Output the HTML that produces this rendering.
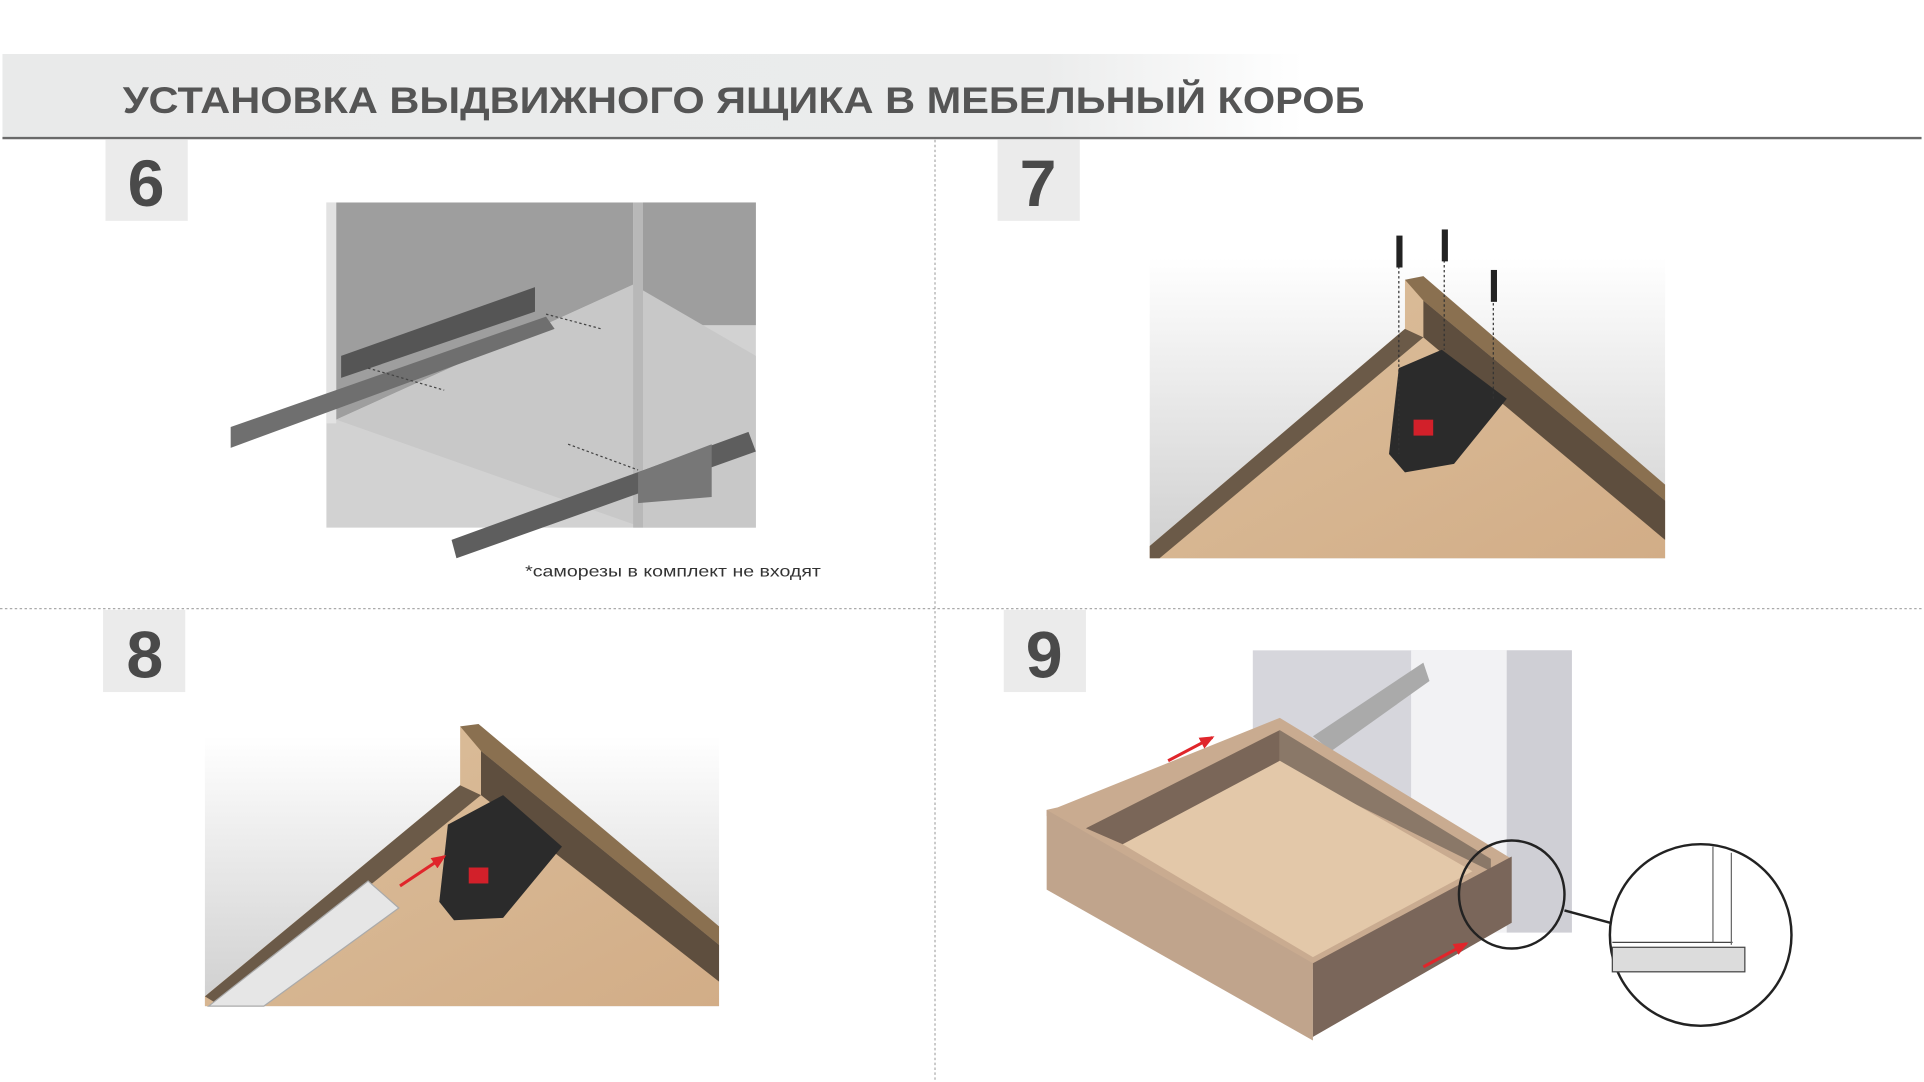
<!DOCTYPE html>
<html><head><meta charset="utf-8"><style>
html,body{margin:0;padding:0;background:#fff;width:1924px;height:1082px;overflow:hidden}
#w{width:1568px;height:882px;transform:scale(1.22704);transform-origin:0 0}
svg{display:block}
</style></head><body><div id="w">
<svg width="1568" height="882" viewBox="0 0 1568 882" xmlns="http://www.w3.org/2000/svg">
<defs>
<linearGradient id="hd" x1="0" x2="1" y1="0" y2="0"><stop offset="0" stop-color="#e9eaea"/><stop offset="0.8" stop-color="#ebecec"/><stop offset="1" stop-color="#fff"/></linearGradient>
<linearGradient id="bg7" x1="0" x2="0" y1="0" y2="1"><stop offset="0" stop-color="#fff"/><stop offset="1" stop-color="#cfcfcf"/></linearGradient>
<linearGradient id="wood" x1="0" x2="1" y1="0" y2="1"><stop offset="0" stop-color="#dcbf9c"/><stop offset="1" stop-color="#d2ad87"/></linearGradient>
<marker id="ar" markerUnits="userSpaceOnUse" markerWidth="12" markerHeight="10" refX="10" refY="5" orient="auto"><path d="M0,0 L12,5 L0,10z" fill="#e0262b"/></marker>
</defs>
<rect x="2" y="44" width="1060" height="68" fill="url(#hd)"/>
<text x="100" y="92" font-family="Liberation Sans, sans-serif" font-weight="bold" font-size="30" fill="#555" textLength="1012" lengthAdjust="spacingAndGlyphs">УСТАНОВКА ВЫДВИЖНОГО ЯЩИКА В МЕБЕЛЬНЫЙ КОРОБ</text>
<line x1="2" y1="112.5" x2="1566" y2="112.5" stroke="#6a6a6a" stroke-width="2"/>
<line x1="762" y1="114" x2="762" y2="882" stroke="#aaa" stroke-width="1" stroke-dasharray="2,2"/>
<line x1="0" y1="496" x2="1568" y2="496" stroke="#aaa" stroke-width="1" stroke-dasharray="2,2"/>
<g font-family="Liberation Sans, sans-serif" font-weight="bold" font-size="54" fill="#4a4a4a" text-anchor="middle">
<rect x="86" y="114" width="67" height="66" fill="#ebebeb"/><text x="119" y="168">6</text>
<rect x="813" y="114" width="67" height="66" fill="#ebebeb"/><text x="846" y="168">7</text>
<rect x="84" y="497" width="67" height="67" fill="#ebebeb"/><text x="118" y="552">8</text>
<rect x="818" y="497" width="67" height="67" fill="#ebebeb"/><text x="851" y="552">9</text>
</g>
<!-- panel 6 -->
<rect x="266" y="165" width="350" height="265" fill="#d2d2d2"/>
<polygon points="274,165 516,165 516,232 274,342" fill="#9e9e9e"/>
<rect x="524" y="165" width="92" height="100" fill="#9e9e9e"/>
<polygon points="274,342 516,232 616,290 616,430 524,430" fill="#c8c8c8"/>
<rect x="266" y="165" width="8" height="180" fill="#e2e2e2"/>
<rect x="516" y="165" width="8" height="265" fill="#b8b8b8"/>
<polygon points="188,348 445,258 452,268 188,365" fill="#6f6f6f"/>
<polygon points="278,290 436,234 436,254 278,308" fill="#555"/>
<polygon points="368,440 610,352 616,368 372,455" fill="#5e5e5e"/>
<polygon points="520,385 580,362 580,405 520,410" fill="#777"/>
<line x1="445" y1="256" x2="490" y2="268" stroke="#444" stroke-dasharray="2,2"/>
<line x1="300" y1="300" x2="362" y2="318" stroke="#444" stroke-dasharray="2,2"/>
<line x1="463" y1="362" x2="520" y2="383" stroke="#444" stroke-dasharray="2,2"/>
<text x="428" y="470" font-family="Liberation Sans, sans-serif" font-size="13" fill="#333" textLength="241" lengthAdjust="spacingAndGlyphs">*саморезы в комплект не входят</text>
<!-- panel 7 -->
<rect x="937" y="210" width="420" height="245" fill="url(#bg7)"/>
<polygon points="937,455 937,445 1145,268 1145,228 1357,408 1357,455" fill="url(#wood)"/>
<polygon points="937,445 1145,268 1160,275 945,455 937,455" fill="#6b5a48"/>
<polygon points="1145,228 1160,225 1357,395 1357,408 1160,245" fill="#8a7050"/>
<polygon points="1160,245 1357,408 1357,440 1160,275" fill="#5e4e3e"/>
<polygon points="1140,300 1175,285 1228,325 1185,378 1145,385 1132,370" fill="#2b2b2b"/>
<rect x="1152" y="342" width="16" height="13" fill="#d2202a"/>
<g stroke="#333" stroke-dasharray="2,2"><line x1="1140" y1="205" x2="1140" y2="370"/><line x1="1177" y1="200" x2="1177" y2="285"/><line x1="1217" y1="235" x2="1217" y2="325"/></g>
<g fill="#222"><rect x="1138" y="192" width="5" height="26"/><rect x="1175" y="187" width="5" height="26"/><rect x="1215" y="220" width="5" height="26"/></g>
<!-- panel 8 -->
<rect x="167" y="600" width="419" height="220" fill="url(#bg7)"/>
<polygon points="167,820 167,812 375,640 375,592 586,770 586,820" fill="url(#wood)"/>
<polygon points="167,812 375,640 392,648 180,820" fill="#6b5a48"/>
<polygon points="375,592 390,590 586,755 586,770 392,612" fill="#8a7050"/>
<polygon points="392,612 586,770 586,800 392,648" fill="#5e4e3e"/>
<polygon points="170,820 300,718 325,740 215,820" fill="#e6e6e6" stroke="#aaa"/>
<polygon points="365,672 410,648 458,690 410,748 370,750 358,735" fill="#2b2b2b"/>
<rect x="382" y="707" width="16" height="13" fill="#d2202a"/>
<line x1="326" y1="722" x2="362" y2="698" stroke="#e0262b" stroke-width="2.5" marker-end="url(#ar)"/>
<!-- panel 9 -->
<rect x="1021" y="530" width="260" height="230" fill="#d6d6dc"/>
<rect x="1150" y="530" width="78" height="230" fill="#f2f2f4"/>
<rect x="1228" y="530" width="53" height="230" fill="#cfcfd5"/>
<polygon points="1070,600 1160,540 1165,555 1085,612" fill="#aaa"/>
<polygon points="853,660 862,658 1043,585 1232,700 1070,790 853,665" fill="#c9ab90"/>
<polygon points="885,675 1043,595 1043,625 915,688" fill="#7a6658"/>
<polygon points="1043,595 1215,700 1215,710 1043,625" fill="#8a7868"/>
<polygon points="915,688 1043,620 1200,710 1070,780" fill="#e3c8a9"/>
<polygon points="853,660 1070,785 1070,848 853,725" fill="#c0a48c"/>
<polygon points="1070,785 1232,698 1232,752 1070,845" fill="#7a665a"/>
<line x1="952" y1="620" x2="988" y2="601" stroke="#e0262b" stroke-width="2.5" marker-end="url(#ar)"/>
<line x1="1160" y1="788" x2="1195" y2="769" stroke="#e0262b" stroke-width="2.5" marker-end="url(#ar)"/>
<ellipse cx="1232" cy="729" rx="43" ry="44" fill="none" stroke="#222" stroke-width="2"/>
<line x1="1275" y1="742" x2="1312" y2="752" stroke="#222" stroke-width="2"/>
<ellipse cx="1386" cy="762" rx="74" ry="74" fill="#fff" stroke="#222" stroke-width="2"/>
<rect x="1314" y="772" width="108" height="20" fill="#dcdcdc" stroke="#444"/>
<line x1="1314" y1="768" x2="1412" y2="768" stroke="#444"/>
<line x1="1396" y1="690" x2="1396" y2="768" stroke="#666"/>
<line x1="1411" y1="695" x2="1411" y2="770" stroke="#666"/>
</svg></div></body></html>
